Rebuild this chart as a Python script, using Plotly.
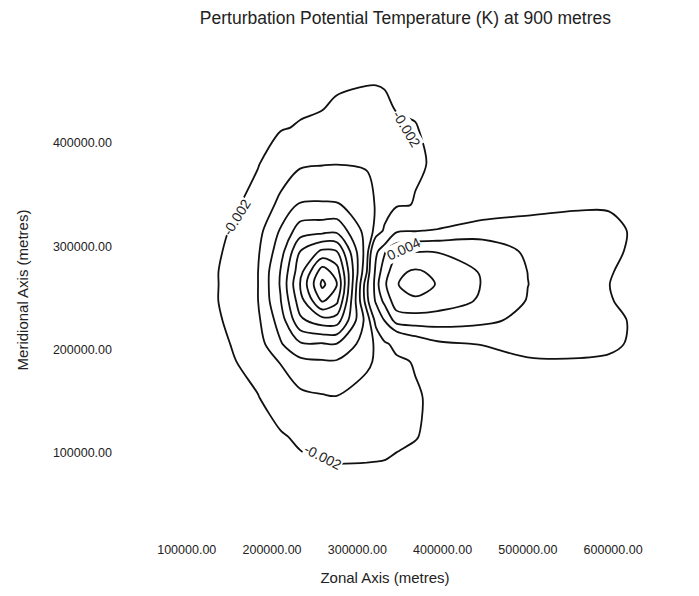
import numpy as np
import plotly.graph_objects as go

zonal_m = [0, 70000, 116000, 183000, 210000, 233000, 259000, 276000, 311000, 322000,
           332000, 346000, 368000, 394000, 447000, 500000, 560000, 595000, 630000, 660000]
meridional_m = [520000, 460000, 415000, 380000, 340000, 315000, 295000, 275000, 263000,
                247000, 228000, 205000, 188000, 153000, 115000, 85000, 45000, 10000]

# perturbation potential temperature (K); one list per zonal position, north -> south
theta_columns = [
    [-0.0001, -0.0001, -0.0002, -0.0002, -0.0002, -0.0003, -0.0003, -0.0004, -0.0004, -0.0004, -0.0003, -0.0003, -0.0003, -0.0002, -0.0002, -0.0002, -0.0001, -0.0001],
    [-0.0002, -0.0003, -0.0003, -0.0004, -0.0005, -0.0006, -0.0007, -0.0008, -0.0008, -0.0008, -0.0007, -0.0006, -0.0006, -0.0005, -0.0004, -0.0003, -0.0003, -0.0002],
    [-0.0003, -0.0004, -0.0005, -0.0005, -0.0006, -0.00075, -0.00093, -0.00112, -0.00111, -0.00113, -0.00099, -0.0008, -0.0008, -0.0007, -0.0006, -0.0005, -0.0004, -0.0003],
    [-0.0006, -0.0010, -0.0014, -0.0019, -0.0026, -0.0033, -0.0037, -0.0039, -0.0039, -0.0039, -0.0036, -0.0031, -0.0027, -0.0019, -0.0014, -0.0011, -0.0008, -0.0006],
    [-0.0007, -0.0012, -0.0019, -0.0029, -0.0045, -0.0062, -0.0071, -0.0081, -0.0082, -0.0079, -0.0069, -0.0058, -0.0041, -0.0030, -0.0018, -0.0013, -0.0009, -0.0006],
    [-0.0009, -0.0015, -0.0021, -0.0037, -0.0062, -0.0090, -0.0120, -0.0133, -0.0141, -0.0131, -0.0116, -0.0077, -0.0055, -0.0035, -0.0023, -0.0016, -0.0011, -0.0007],
    [-0.0010, -0.0015, -0.0023, -0.0039, -0.0062, -0.0093, -0.0144, -0.0192, -0.0205, -0.0183, -0.0131, -0.0078, -0.0058, -0.0038, -0.0027, -0.0019, -0.0013, -0.0009],
    [-0.0011, -0.0017, -0.0027, -0.00395, -0.0062, -0.0095, -0.0140, -0.0170, -0.0181, -0.0165, -0.0130, -0.0079, -0.0058, -0.0039, -0.0027, -0.0019, -0.0013, -0.0009],
    [-0.0011, -0.0019, -0.0029, -0.0039, -0.0045, -0.0052, -0.0050, -0.0041, -0.0027, -0.0030, -0.0052, -0.0050, -0.0043, -0.0033, -0.0025, -0.0019, -0.0013, -0.0009],
    [-0.0011, -0.0019, -0.0030, -0.0036, -0.0039, -0.0034, 0.0015, 0.0029, 0.0033, 0.0026, -0.0013, -0.0036, -0.0038, -0.0032, -0.0024, -0.0019, -0.0012, -0.0008],
    [-0.0010, -0.0018, -0.0029, -0.0037, -0.0032, -0.0016, 0.0038, 0.0050, 0.0057, 0.0045, 0.0021, -0.0025, -0.0035, -0.0030, -0.0023, -0.0019, -0.0012, -0.0008],
    [-0.0009, -0.0016, -0.0022, -0.0028, -0.0023, 0.0017, 0.0055, 0.0076, 0.0079, 0.0072, 0.0048, -0.0012, -0.0025, -0.0029, -0.0023, -0.0017, -0.0011, -0.0007],
    [-0.0008, -0.0013, -0.0021, -0.0022, -0.0019, 0.0019, 0.0059, 0.0083, 0.0088, 0.0077, 0.0050, 0.0005, -0.0018, -0.0023, -0.0021, -0.0013, -0.0010, -0.0007],
    [-0.0006, -0.0010, -0.0013, -0.0018, -0.0010, 0.0022, 0.0059, 0.0076, 0.0079, 0.0072, 0.0049, 0.0016, -0.0004, -0.0014, -0.0014, -0.0011, -0.0008, -0.0006],
    [-0.0003, -0.0005, -0.0006, -0.0006, 0.0005, 0.0031, 0.0052, 0.0058, 0.0059, 0.0057, 0.0044, 0.0021, 0.0008, -0.0002, -0.0004, -0.0004, -0.0003, -0.0002],
    [0.0000, 0.0000, 0.0001, 0.0003, 0.0013, 0.0030, 0.0037, 0.00398, 0.00402, 0.0039, 0.0035, 0.0026, 0.0018, 0.0006, 0.0002, 0.0001, 0.0000, 0.0000],
    [0.0001, 0.0002, 0.0004, 0.0007, 0.0018, 0.0027, 0.0029, 0.0028, 0.00275, 0.0028, 0.0028, 0.0024, 0.0019, 0.0009, 0.0004, 0.0002, 0.0001, 0.0000],
    [0.0001, 0.0002, 0.0003, 0.0006, 0.0019, 0.0023, 0.0022, 0.00208, 0.00202, 0.00208, 0.0023, 0.0022, 0.00185, 0.0008, 0.0003, 0.0002, 0.0001, 0.0000],
    [0.0000, 0.0001, 0.0002, 0.0004, 0.0011, 0.0018, 0.0018, 0.0016, 0.0014, 0.0016, 0.0018, 0.0018, 0.0011, 0.0005, 0.0002, 0.0001, 0.0000, 0.0000],
    [0.0000, 0.0000, 0.0001, 0.0003, 0.0007, 0.0010, 0.0010, 0.0009, 0.0009, 0.0009, 0.0010, 0.0010, 0.0007, 0.0003, 0.0001, 0.0000, 0.0000, 0.0000],
]

negative_levels = dict(start=-0.020, end=-0.002, size=0.002)
positive_levels = dict(start=0.002, end=0.008, size=0.002)

contour_label_text = ["-0.002", "-0.002", "-0.002", "0.004"]
contour_label_x = [358000, 159000, 260000, 354000]
contour_label_y = [414000, 328000, 95500, 297300]
contour_label_angle = [59, -58, 27, -25]

x_tick_vals = [100000, 200000, 300000, 400000, 500000, 600000]
x_tick_text = ["100000.00", "200000.00", "300000.00", "400000.00", "500000.00", "600000.00"]
y_tick_vals = [100000, 200000, 300000, 400000]
y_tick_text = ["100000.00", "200000.00", "300000.00", "400000.00"]

# ---------------- figure ----------------
y_arr = np.array(meridional_m)[::-1]
z_arr = np.array(theta_columns).T[::-1]

FONT = "Liberation Sans, Arial, sans-serif"
LINE = "#111111"

fig = go.Figure()
for lv in (negative_levels, positive_levels):
    fig.add_trace(go.Contour(
        x=zonal_m, y=y_arr, z=z_arr,
        contours=dict(coloring="lines", start=lv["start"], end=lv["end"], size=lv["size"],
                      showlabels=False),
        colorscale=[[0, LINE], [1, LINE]],
        line=dict(width=1.8, smoothing=0.9),
        showscale=False, hoverinfo="skip",
    ))

for t, lx, ly, ang in zip(contour_label_text, contour_label_x, contour_label_y, contour_label_angle):
    fig.add_annotation(x=lx, y=ly, text=t, textangle=ang, showarrow=False,
                       font=dict(family=FONT, size=14, color="#222"),
                       bgcolor="white", borderpad=0)

fig.update_layout(
    width=699, height=596,
    margin=dict(l=110, r=39, t=40, b=56),
    paper_bgcolor="white", plot_bgcolor="white",
    showlegend=False,
    font=dict(family=FONT, color="#222"),
    title=dict(text="Perturbation Potential Temperature (K) at 900 metres",
               x=0.58, xanchor="center", y=0.97, yanchor="middle",
               font=dict(family=FONT, size=17.5, color="#222")),
    xaxis=dict(range=[10000, 655000], showgrid=False, zeroline=False, showline=False,
               ticks="", tickvals=x_tick_vals, ticktext=x_tick_text,
               tickfont=dict(size=12.5), automargin=False,
               title=dict(text="Zonal Axis (metres)", font=dict(size=15), standoff=16)),
    yaxis=dict(range=[15000, 500000], showgrid=False, zeroline=False, showline=False,
               ticks="", tickvals=y_tick_vals, ticktext=y_tick_text,
               tickfont=dict(size=12.5), automargin=False, ticklabelstandoff=-3,
               title=dict(text="Meridional Axis (metres)", font=dict(size=15), standoff=20)),
)

fig.write_html("out.html")
